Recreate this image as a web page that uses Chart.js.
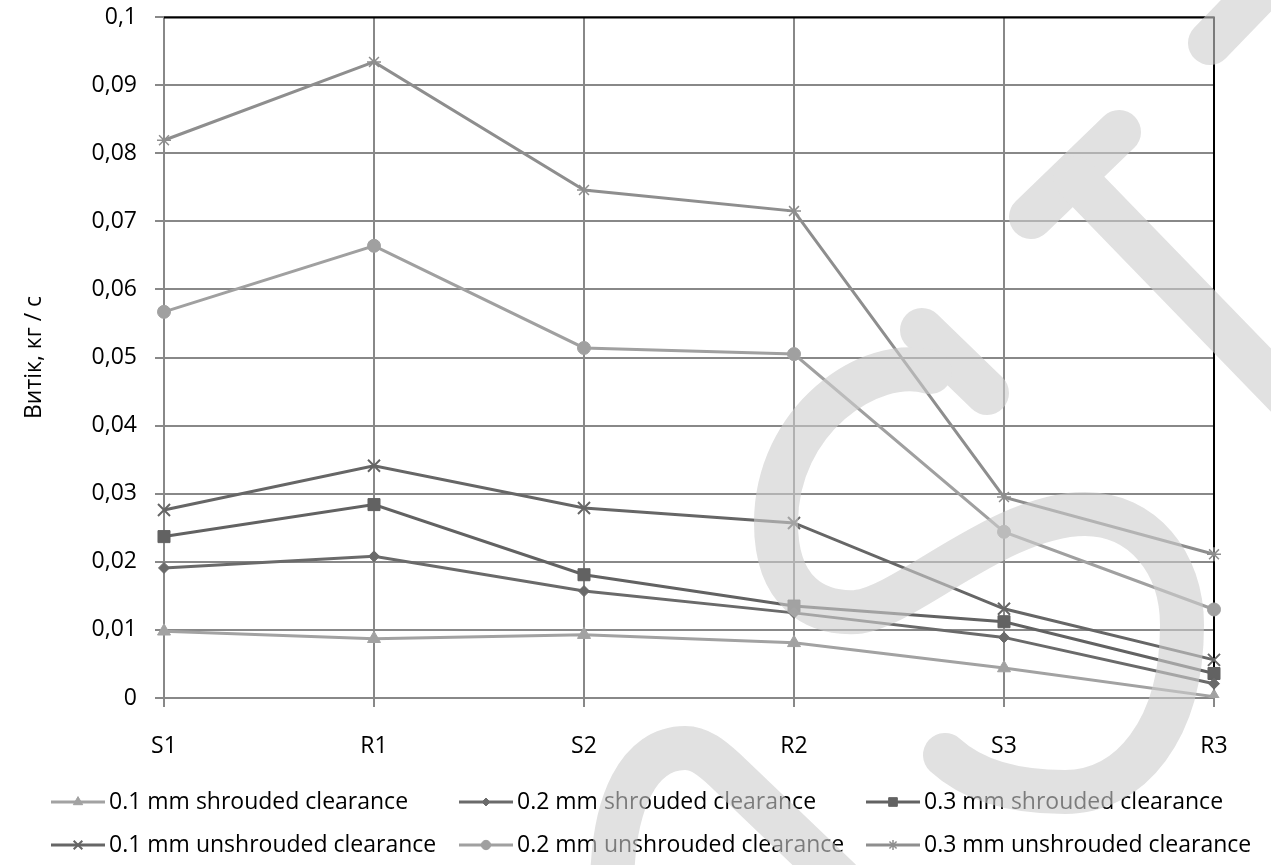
<!DOCTYPE html>
<html>
<head>
<meta charset="utf-8">
<script src="https://cdn.jsdelivr.net/npm/chart.js@4/dist/chart.umd.min.js"></script>
<style>
  html, body { margin: 0; padding: 0; background: #ffffff; }
  #wrap { width: 1271px; height: 865px; position: relative; }
</style>
</head>
<body>
<div id="wrap"><canvas id="leakChart" width="1271" height="865"></canvas></div>
<script>
// Stage positions along the flow path
const categories = ['S1', 'R1', 'S2', 'R2', 'S3', 'R3'];

// Leakage mass flow, kg/s
const shrouded01   = [0.0098, 0.0087, 0.0093, 0.0081, 0.0044, 0.0002];
const shrouded02   = [0.0191, 0.0208, 0.0157, 0.0125, 0.0089, 0.0021];
const shrouded03   = [0.0237, 0.0284, 0.0181, 0.0135, 0.0112, 0.0036];
const unshrouded01 = [0.0276, 0.0341, 0.0279, 0.0257, 0.0131, 0.0056];
const unshrouded02 = [0.0567, 0.0664, 0.0514, 0.0505, 0.0244, 0.0130];
const unshrouded03 = [0.0819, 0.0934, 0.0746, 0.0715, 0.0295, 0.0211];

const seriesNames = [
  '0.1 mm shrouded clearance',
  '0.2 mm shrouded clearance',
  '0.3 mm shrouded clearance',
  '0.1 mm unshrouded clearance',
  '0.2 mm unshrouded clearance',
  '0.3 mm unshrouded clearance'
];

const yTickLabels = ['0', '0,01', '0,02', '0,03', '0,04', '0,05', '0,06', '0,07', '0,08', '0,09', '0,1'];
const yAxisTitle = 'Витік, кг / с';

const FONT = "'Open Sans', 'Noto Sans', sans-serif";
const GRID = '#888888';

function lineSet(label, data, color, style, radius, borderW) {
  return {
    label: label,
    data: data,
    borderColor: color,
    backgroundColor: color,
    borderWidth: 3,
    tension: 0,
    fill: false,
    pointStyle: style,
    pointRadius: radius,
    pointHoverRadius: radius,
    pointBackgroundColor: color,
    pointBorderColor: color,
    pointBorderWidth: borderW
  };
}

// Black frame on the top and right edges of the plot area
const frameEdges = {
  id: 'frameEdges',
  beforeDatasetsDraw(chart) {
    const { ctx, chartArea: a } = chart;
    ctx.save();
    ctx.strokeStyle = '#000000';
    ctx.lineWidth = 2;
    ctx.beginPath();
    ctx.moveTo(a.left, a.top + 0.5);
    ctx.lineTo(a.right, a.top + 0.5);
    ctx.lineTo(a.right, a.bottom);
    ctx.stroke();
    ctx.restore();
  }
};

// Two-row legend with a line sample and marker for each series
const legendCols = [51, 459, 866];
const legendRows = [802, 845];
const seriesLegend = {
  id: 'seriesLegend',
  afterDraw(chart) {
    const ctx = chart.ctx;
    chart.data.datasets.forEach((ds, i) => {
      const x0 = legendCols[i % 3];
      const y = legendRows[Math.floor(i / 3)];
      ctx.save();
      ctx.strokeStyle = ds.borderColor;
      ctx.fillStyle = ds.borderColor;
      ctx.lineWidth = 3;
      ctx.beginPath();
      ctx.moveTo(x0, y);
      ctx.lineTo(x0 + 54, y);
      ctx.stroke();
      ctx.lineWidth = ds.pointBorderWidth;
      Chart.helpers.drawPoint(ctx, {
        pointStyle: ds.pointStyle,
        radius: ds.pointRadius * 0.72,
        borderWidth: ds.pointBorderWidth,
        rotation: 0
      }, x0 + 27, y);
      ctx.fillStyle = '#000000';
      ctx.font = '23px ' + FONT;
      ctx.textAlign = 'left';
      ctx.textBaseline = 'middle';
      ctx.fillText(ds.label, x0 + 58, y);
      ctx.restore();
    });
  }
};

// Pale logo strokes laid over the finished chart
const logoStrokes = {
  id: 'logoStrokes',
  afterDraw(chart) {
    const { ctx, width, height } = chart;
    const off = document.createElement('canvas');
    off.width = width;
    off.height = height;
    const o = off.getContext('2d');
    o.strokeStyle = 'rgb(205,205,205)';
    o.lineWidth = 44;
    o.lineCap = 'round';
    o.lineJoin = 'round';
    const seg = (x1, y1, x2, y2) => { o.beginPath(); o.moveTo(x1, y1); o.lineTo(x2, y2); o.stroke(); };
    seg(1210, 43, 1290, -40);
    seg(1031, 217, 1119, 132);
    seg(1075, 178, 1300, 410);
    seg(922, 330, 987, 393);
    // double loop
    o.beginPath();
    o.moveTo(930, 372);
    o.bezierCurveTo(870, 355, 776, 420, 776, 523);
    o.bezierCurveTo(776, 592, 815, 614, 856, 612);
    o.bezierCurveTo(905, 608, 1000, 514, 1085, 514);
    o.bezierCurveTo(1142, 514, 1182, 562, 1182, 625);
    o.bezierCurveTo(1182, 730, 1130, 792, 1065, 792);
    o.bezierCurveTo(1010, 792, 970, 778, 945, 755);
    o.stroke();
    // arch at the bottom
    o.beginPath();
    o.moveTo(612, 890);
    o.bezierCurveTo(612, 800, 640, 748, 685, 748);
    o.bezierCurveTo(700, 748, 712, 758, 725, 770);
    o.lineTo(840, 880);
    o.stroke();
    ctx.save();
    ctx.globalAlpha = 0.6;
    ctx.drawImage(off, 0, 0);
    ctx.restore();
  }
};

new Chart(document.getElementById('leakChart'), {
  type: 'line',
  data: {
    labels: categories,
    datasets: [
      lineSet(seriesNames[0], shrouded01,   '#a2a2a2', 'triangle', 7.5, 1),
      lineSet(seriesNames[1], shrouded02,   '#6a6a6a', 'rectRot',  5.5, 1),
      lineSet(seriesNames[2], shrouded03,   '#626262', 'rect',     8.5, 1),
      lineSet(seriesNames[3], unshrouded01, '#666666', 'crossRot', 8.5, 2),
      lineSet(seriesNames[4], unshrouded02, '#a0a0a0', 'circle',   6.5, 1),
      lineSet(seriesNames[5], unshrouded03, '#8e8e8e', 'star',     7,   1.5)
    ]
  },
  options: {
    responsive: false,
    animation: false,
    devicePixelRatio: 1,
    layout: { padding: { top: 17, right: 57, bottom: 0, left: 0 } },
    plugins: {
      legend: { display: false },
      tooltip: { enabled: false },
      title: { display: false }
    },
    scales: {
      x: {
        type: 'category',
        offset: false,
        grid: { color: GRID, lineWidth: 2, tickLength: 9, drawTicks: true },
        border: { color: GRID, width: 2 },
        ticks: {
          color: '#000000',
          font: { family: FONT, size: 23 },
          padding: 26,
          maxRotation: 0,
          autoSkip: false
        },
        afterFit(scale) {
          scale.height = 167;
          scale.paddingLeft = 0;
          scale.paddingRight = 0;
        }
      },
      y: {
        min: 0,
        max: 0.1,
        grid: { color: GRID, lineWidth: 2, tickLength: 9, drawTicks: true },
        border: { color: GRID, width: 2 },
        ticks: {
          stepSize: 0.01,
          color: '#000000',
          font: { family: FONT, size: 23 },
          padding: 18,
          callback: (value, index) => yTickLabels[index]
        },
        title: {
          display: true,
          text: yAxisTitle,
          color: '#000000',
          font: { family: FONT, size: 23 },
          padding: { top: 21, bottom: 0 }
        },
        afterFit(scale) {
          scale.width = 164;
          scale.paddingTop = 0;
          scale.paddingBottom = 0;
        }
      }
    }
  },
  plugins: [frameEdges, seriesLegend, logoStrokes]
});
</script>
</body>
</html>
